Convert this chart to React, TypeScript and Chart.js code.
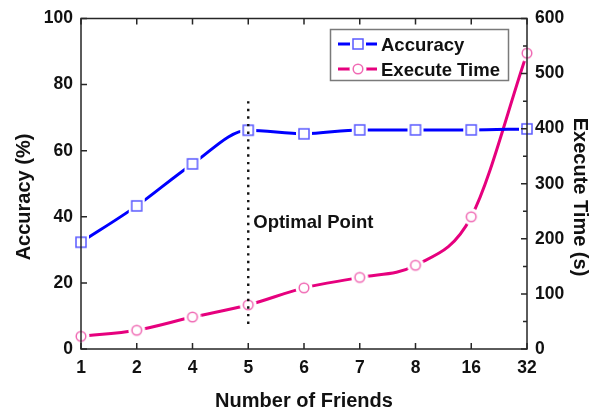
import React, { useEffect, useRef } from 'react';
import { Chart, registerables } from 'chart.js';

Chart.register(...registerables);

// ---- data ----
const categories = ['1', '2', '4', '5', '6', '7', '8', '16', '32'];
const accuracy = [32.3, 43.3, 56.0, 66.2, 65.1, 66.3, 66.3, 66.3, 66.6];
const executeTime = [23, 34, 58, 80, 111, 130, 152, 240, 537];
const accuracyTicks = [0, 20, 40, 60, 80, 100];
const timeTicks = [0, 100, 200, 300, 400, 500, 600];
const timeMinorTicks = [50, 150, 250, 350, 450, 550];
const seriesLabels = ['Accuracy', 'Execute Time'];
const optimalCategory = '5';
const optimalRange = [7, 75];
const optimalLabel = 'Optimal Point';
const optimalLabelValue = 36.6;
const xTitle = 'Number of Friends';
const leftTitle = 'Accuracy (%)';
const rightTitle = 'Execute Time (s)';

// ---- styles ----
const FAMILY = '"Liberation Sans", Arial, sans-serif';
const BLUE = '#0000ff';
const BLUE_MARK = '#5a5aff';
const PINK = '#e6007e';
const PINK_MARK = '#f06ab4';
const AXIS = '#262626';

function makeSquare(): HTMLCanvasElement {
  const c = document.createElement('canvas');
  c.width = 18;
  c.height = 18;
  const g = c.getContext('2d')!;
  g.fillStyle = '#ffffff';
  g.fillRect(1, 1, 16, 16);
  g.strokeStyle = BLUE_MARK;
  g.lineWidth = 1.5;
  g.strokeRect(4, 4, 10, 10);
  return c;
}

function makeCircle(): HTMLCanvasElement {
  const c = document.createElement('canvas');
  c.width = 18;
  c.height = 18;
  const g = c.getContext('2d')!;
  g.fillStyle = '#ffffff';
  g.beginPath();
  g.arc(9, 9, 8.5, 0, Math.PI * 2);
  g.fill();
  g.strokeStyle = PINK_MARK;
  g.lineWidth = 1.5;
  g.beginPath();
  g.arc(9, 9, 4.8, 0, Math.PI * 2);
  g.stroke();
  return c;
}

export default function App() {
  const ref = useRef<HTMLCanvasElement | null>(null);

  useEffect(() => {
    document.body.style.margin = '0';
    const canvas = ref.current!;
    const sq = makeSquare();
    const ci = makeCircle();

    const overlay = {
      id: 'overlay',
      afterDatasetsDraw(chart: any) {
        const ctx = chart.ctx as CanvasRenderingContext2D;
        const { left, right, top, bottom } = chart.chartArea;
        const xs = chart.scales.x;
        const yl = chart.scales.y;
        const yr = chart.scales.y1;

        // dotted optimal line
        const ox = xs.getPixelForValue(categories.indexOf(optimalCategory));
        ctx.save();
        ctx.strokeStyle = '#111';
        ctx.lineWidth = 2.4;
        ctx.setLineDash([2.4, 5.2]);
        ctx.beginPath();
        ctx.moveTo(ox, yl.getPixelForValue(optimalRange[1]));
        ctx.lineTo(ox, yl.getPixelForValue(optimalRange[0]));
        ctx.stroke();
        ctx.restore();

        // frame
        ctx.save();
        ctx.strokeStyle = AXIS;
        ctx.lineWidth = 1.5;
        ctx.strokeRect(left, top, right - left, bottom - top);
        // inward ticks
        ctx.beginPath();
        categories.forEach((_, i) => {
          const px = xs.getPixelForValue(i);
          ctx.moveTo(px, bottom);
          ctx.lineTo(px, bottom - 6);
          ctx.moveTo(px, top);
          ctx.lineTo(px, top + 6);
        });
        accuracyTicks.forEach((v) => {
          const py = yl.getPixelForValue(v);
          ctx.moveTo(left, py);
          ctx.lineTo(left + 6, py);
        });
        timeTicks.forEach((v) => {
          const py = yr.getPixelForValue(v);
          ctx.moveTo(right, py);
          ctx.lineTo(right - 6, py);
        });
        timeMinorTicks.forEach((v) => {
          const py = yr.getPixelForValue(v);
          ctx.moveTo(right, py);
          ctx.lineTo(right - 4, py);
        });
        ctx.stroke();
        ctx.restore();

        // Optimal Point label
        ctx.save();
        ctx.fillStyle = '#111';
        ctx.font = `bold 18.5px ${FAMILY}`;
        ctx.textAlign = 'left';
        ctx.textBaseline = 'alphabetic';
        ctx.fillText(optimalLabel, ox + 5, yl.getPixelForValue(optimalLabelValue));
        ctx.restore();

        // axis titles
        ctx.save();
        ctx.fillStyle = '#111';
        ctx.font = `bold 20px ${FAMILY}`;
        ctx.textAlign = 'center';
        ctx.textBaseline = 'middle';
        ctx.save();
        ctx.translate(24, 197);
        ctx.rotate(-Math.PI / 2);
        ctx.fillText(leftTitle, 0, 0);
        ctx.restore();
        ctx.save();
        ctx.translate(580, 197);
        ctx.rotate(Math.PI / 2);
        ctx.fillText(rightTitle, 0, 0);
        ctx.restore();
        ctx.textBaseline = 'alphabetic';
        ctx.fillText(xTitle, (left + right) / 2, 407);
        ctx.restore();

        // legend
        ctx.save();
        ctx.strokeStyle = '#7a7a7a';
        ctx.lineWidth = 1.5;
        ctx.strokeRect(330.5, 29.5, 178, 51);
        const rows = [
          { y: 44, color: BLUE, img: sq, label: seriesLabels[0] },
          { y: 69, color: PINK, img: ci, label: seriesLabels[1] },
        ];
        rows.forEach((r) => {
          ctx.strokeStyle = r.color;
          ctx.lineWidth = 3;
          ctx.beginPath();
          ctx.moveTo(338, r.y);
          ctx.lineTo(377, r.y);
          ctx.stroke();
          ctx.drawImage(r.img, 358 - 9, r.y - 9);
          ctx.fillStyle = '#111';
          ctx.font = `bold 18.5px ${FAMILY}`;
          ctx.textAlign = 'left';
          ctx.textBaseline = 'alphabetic';
          ctx.fillText(r.label, 381, r.y + 6.7);
        });
        ctx.restore();
      },
    };

    const tickFont = { family: FAMILY, size: 17.5, weight: 'bold' as const };

    const chart = new Chart(canvas, {
      type: 'line',
      data: {
        labels: categories,
        datasets: [
          {
            label: seriesLabels[0],
            data: accuracy,
            yAxisID: 'y',
            borderColor: BLUE,
            borderWidth: 3,
            cubicInterpolationMode: 'monotone',
            pointStyle: sq as any,
            pointRadius: 6,
            fill: false,
          },
          {
            label: seriesLabels[1],
            data: executeTime,
            yAxisID: 'y1',
            borderColor: PINK,
            borderWidth: 3,
            cubicInterpolationMode: 'monotone',
            pointStyle: ci as any,
            pointRadius: 6,
            fill: false,
          },
        ],
      },
      options: {
        responsive: false,
        animation: false,
        events: [],
        layout: { padding: { top: 17, left: 0, right: 0, bottom: 0 } },
        plugins: {
          legend: { display: false },
          tooltip: { enabled: false },
        },
        scales: {
          x: {
            type: 'category',
            offset: false,
            grid: { display: false, drawTicks: false },
            border: { display: false },
            ticks: { color: '#111', font: tickFont, padding: 9, maxRotation: 0, autoSkip: false },
            afterFit(scale: any) {
              scale.height = 64;
            },
          },
          y: {
            position: 'left',
            min: 0,
            max: 100,
            grid: { display: false, drawTicks: false },
            border: { display: false },
            ticks: { stepSize: 20, color: '#111', font: tickFont, padding: 8 },
            afterFit(scale: any) {
              scale.width = 81;
            },
          },
          y1: {
            position: 'right',
            min: 0,
            max: 600,
            grid: { display: false, drawTicks: false },
            border: { display: false },
            ticks: { stepSize: 100, color: '#111', font: tickFont, padding: 8 },
            afterFit(scale: any) {
              scale.width = 65;
            },
          },
        },
      },
      plugins: [overlay],
    });

    return () => chart.destroy();
  }, []);

  return (
    <div style={{ width: 592, height: 413, background: '#fff' }}>
      <canvas ref={ref} width={592} height={413} style={{ display: 'block' }} />
    </div>
  );
}
